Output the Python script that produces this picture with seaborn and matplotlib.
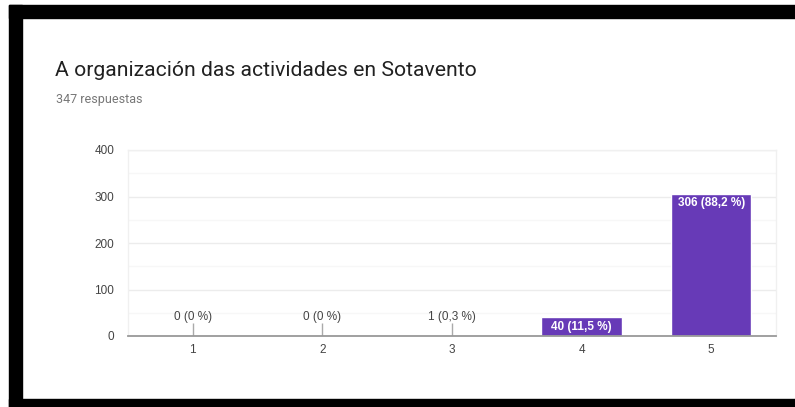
import matplotlib
matplotlib.use("Agg")
import matplotlib.pyplot as plt
import seaborn as sns
import pandas as pd
from matplotlib.patches import Rectangle

# Survey answers (scale 1-5)
categories = ["1", "2", "3", "4", "5"]
counts = [0, 0, 1, 40, 306]
percent_labels = ["0 (0 %)", "0 (0 %)", "1 (0,3 %)", "40 (11,5 %)", "306 (88,2 %)"]
y_ticks = [0, 100, 200, 300, 400]

title = "A organización das actividades en Sotavento"
subtitle = "347 respuestas"

PURPLE = "#673ab7"

sns.set_theme(style="white")
plt.rcParams["font.family"] = ["Liberation Sans", "DejaVu Sans"]

df = pd.DataFrame({"answer": categories, "count": counts})

fig = plt.figure(figsize=(7.95, 4.07), dpi=100)

# black screenshot frame
fig.patches.append(Rectangle((9 / 795, 1 - 18 / 407), 1, 13 / 407,
                             transform=fig.transFigure, color="black", zorder=0))
fig.patches.append(Rectangle((9 / 795, 0), 13 / 795, 1 - 5 / 407,
                             transform=fig.transFigure, color="black", zorder=0))
fig.patches.append(Rectangle((9 / 795, 0), 1, 8 / 407,
                             transform=fig.transFigure, color="black", zorder=0))

ax = fig.add_axes([128 / 795, 1 - 336 / 407, 648 / 795, 186 / 407])

sns.barplot(data=df, x="answer", y="count", color=PURPLE, saturation=1,
            width=0.62, ax=ax, zorder=3)

ax.set_ylim(0, 400)
ax.set_xlim(-0.5, 4.5)
ax.set_yticks(y_ticks)
ax.set_yticks([50, 150, 250, 350], minor=True)
ax.grid(True, axis="y", which="major", color="#ececec", linewidth=1, zorder=0)
ax.grid(True, axis="y", which="minor", color="#f7f7f7", linewidth=1, zorder=0)
ax.set_xlabel("")
ax.set_ylabel("")

for side in ["top", "right", "left"]:
    ax.spines[side].set_color("#f0f0f0")
    ax.spines[side].set_linewidth(1)
ax.spines["bottom"].set_color("#999999")
ax.spines["bottom"].set_linewidth(1.3)
ax.spines["bottom"].set_zorder(4)

ax.tick_params(axis="both", length=0, labelsize=8.5, colors="#444444")
ax.tick_params(axis="x", pad=6)
ax.tick_params(axis="y", pad=10)

# value labels: inside tall bars, on a short stem for small ones
for i, (v, lab) in enumerate(zip(counts, percent_labels)):
    if v >= 20:
        ax.text(i, v - 8, lab, ha="center", va="top", color="white",
                fontsize=8.5, fontweight="bold", zorder=5)
    else:
        ax.vlines(i, 0, v + 28, color="#aaaaaa", linewidth=1, zorder=4)
        ax.text(i, 41, lab, ha="center", va="center", color="#444444",
                fontsize=8.5, zorder=5)

fig.text(55 / 795, 1 - 70 / 407, title, fontsize=15.2, color="#212121",
         family=["Roboto", "DejaVu Sans"], ha="left", va="center")
fig.text(56 / 795, 1 - 99 / 407, subtitle, fontsize=9, color="#777777",
         family=["Roboto", "DejaVu Sans"], ha="left", va="center")

fig.savefig("out.png", dpi=100)
